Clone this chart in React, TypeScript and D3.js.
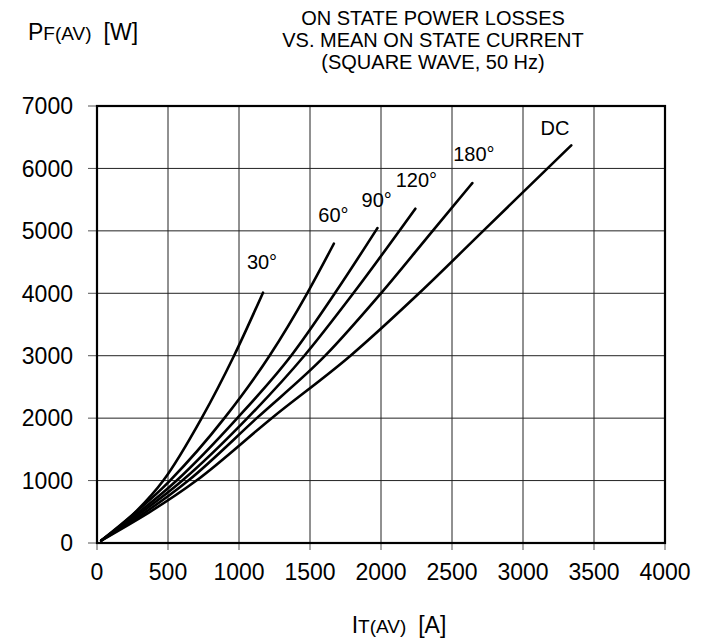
import * as d3 from "d3";
import React from "react";

// mean on-state current [A] and power losses [W]
const curves = ["30°", "60°", "90°", "120°", "180°", "DC"];

const i30 = [30, 250, 467, 737, 965, 1169];
const p30 = [40, 450, 1000, 2000, 3000, 4010];
const i60 = [30, 514, 897, 1215, 1480, 1668];
const p60 = [40, 1000, 2000, 3000, 4000, 4795];
const i90 = [30, 561, 988, 1367, 1675, 1975];
const p90 = [40, 1000, 2000, 3000, 4000, 5045];
const i120 = [30, 601, 1059, 1460, 1805, 2242];
const p120 = [40, 1000, 2000, 3000, 4000, 5355];
const i180 = [30, 643, 1125, 1607, 2000, 2364, 2643];
const p180 = [40, 1000, 2000, 3000, 4000, 5000, 5765];
const iDC = [30, 700, 1230, 1785, 2268, 2720, 3340];
const pDC = [40, 1000, 2000, 3000, 4000, 5000, 6370];

// where the curve names sit (in chart units)
const labelI = [1162, 1665, 1970, 2249, 2654, 3225];
const labelP = [4510, 5265, 5500, 5810, 6232, 6655];

const xTicks = [0, 500, 1000, 1500, 2000, 2500, 3000, 3500, 4000];
const yTicks = [0, 1000, 2000, 3000, 4000, 5000, 6000, 7000];

const titleLines = [
  "ON STATE POWER LOSSES",
  "VS. MEAN ON STATE CURRENT",
  "(SQUARE WAVE, 50 Hz)",
];

export default function App() {
  const width = 709;
  const height = 641;
  const left = 97, right = 665, top = 106, bottom = 543;

  const x = d3.scaleLinear().domain([0, 4000]).range([left, right]);
  const y = d3.scaleLinear().domain([0, 7000]).range([bottom, top]);

  const series = [
    [i30, p30], [i60, p60], [i90, p90], [i120, p120], [i180, p180], [iDC, pDC],
  ];

  const line = d3
    .line<[number, number]>()
    .x((d) => x(d[0]))
    .y((d) => y(d[1]))
    .curve(d3.curveMonotoneX);

  const font = "Arial, 'Liberation Sans', sans-serif";

  return (
    <svg
      width={width}
      height={height}
      style={{ position: "absolute", left: 0, top: 0, background: "#fff" }}
      fontFamily={font}
    >
      {/* grid */}
      {xTicks.slice(1, -1).map((t) => (
        <line key={"gx" + t} x1={x(t)} x2={x(t)} y1={top} y2={bottom} stroke="#222" strokeWidth={1} />
      ))}
      {yTicks.slice(1, -1).map((t) => (
        <line key={"gy" + t} x1={left} x2={right} y1={y(t)} y2={y(t)} stroke="#222" strokeWidth={1} />
      ))}

      {/* ticks */}
      {yTicks.map((t) => (
        <line key={"ty" + t} x1={left - 9} x2={left} y1={y(t)} y2={y(t)} stroke="#555" strokeWidth={1} />
      ))}
      {xTicks.map((t) => (
        <line key={"tx" + t} x1={x(t)} x2={x(t)} y1={bottom} y2={bottom + 7} stroke="#555" strokeWidth={1} />
      ))}

      {/* frame */}
      <rect x={left} y={top} width={right - left} height={bottom - top} fill="none" stroke="#000" strokeWidth={2.2} />

      {/* tick labels */}
      {yTicks.map((t) => (
        <text key={"ly" + t} x={73} y={y(t)} dy="0.36em" textAnchor="end" fontSize={23}>
          {t}
        </text>
      ))}
      {xTicks.map((t) => (
        <text key={"lx" + t} x={x(t)} y={580} textAnchor="middle" fontSize={23}>
          {t}
        </text>
      ))}

      {/* curves */}
      {series.map(([is, ps], k) => (
        <path
          key={curves[k]}
          d={line(is.map((v, j) => [v, ps[j]] as [number, number])) || ""}
          fill="none"
          stroke="#000"
          strokeWidth={2.6}
          strokeLinecap="round"
        />
      ))}

      {curves.map((c, k) => (
        <text key={"cl" + c} x={x(labelI[k])} y={y(labelP[k])} dy="0.36em" textAnchor="middle" fontSize={20}>
          {c}
        </text>
      ))}

      {/* title */}
      {titleLines.map((s, k) => (
        <text key={"t" + k} x={433} y={25 + k * 22} textAnchor="middle" fontSize={20}>
          {s}
        </text>
      ))}

      {/* axis names */}
      <text x={28} y={40} fontSize={23}>
        P<tspan fontSize={19}>F(AV)</tspan>
        <tspan dx={12}>[W]</tspan>
      </text>
      <text x={399} y={633} textAnchor="middle" fontSize={23}>
        I<tspan fontSize={19}>T(AV)</tspan>
        <tspan dx={12}>[A]</tspan>
      </text>
    </svg>
  );
}
